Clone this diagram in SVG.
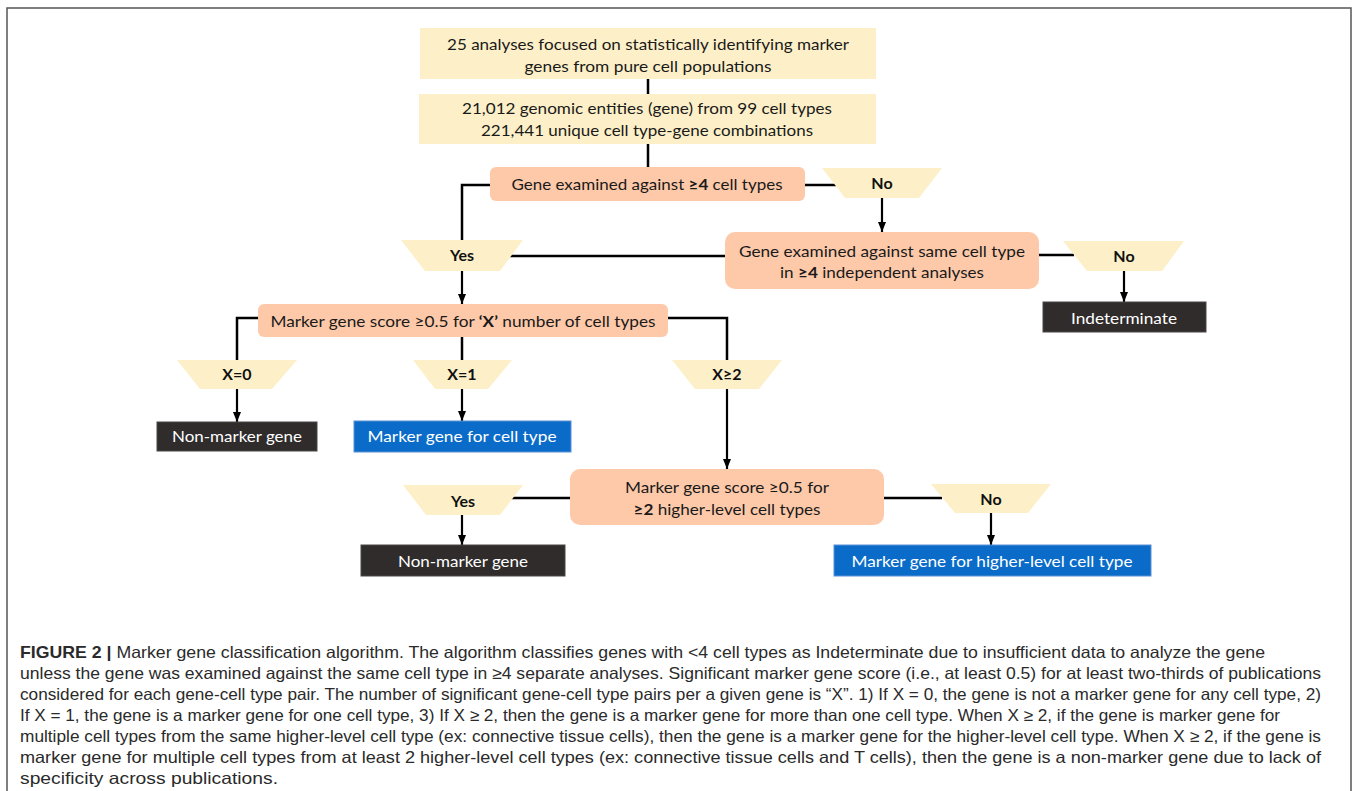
<svg xmlns="http://www.w3.org/2000/svg" width="1356" height="791" viewBox="0 0 1356 791">
<style>
.bg{fill:#ffffff}
.frame{fill:none;stroke:#555;stroke-width:1.5}
.yel{fill:#fdf0c8}
.sal{fill:#fdc9a9}
.dark{fill:#302c2c;stroke:#4a4646;stroke-width:1}
.blue{fill:#0a6cc8;stroke:#5a90d6;stroke-width:1}
.t{font-family:Lato,"Open Sans","Liberation Sans",sans-serif;font-size:16px;fill:#1a1a1a;text-anchor:middle}
.w{font-family:Lato,"Open Sans","Liberation Sans",sans-serif;font-size:16px;fill:#ffffff;text-anchor:middle}
.lb{font-family:Lato,"Open Sans","Liberation Sans",sans-serif;font-size:16px;font-weight:bold;fill:#111;text-anchor:middle}
.b{font-weight:bold}
.ln{fill:none;stroke:#000;stroke-width:2.5}
.ar{fill:none;stroke:#000;stroke-width:2.2;marker-end:url(#ah)}
.cap{font-family:"Liberation Sans",Arial,sans-serif;font-size:16.5px;fill:#2a2a2a}
</style>
<defs>
<marker id="ah" markerUnits="userSpaceOnUse" markerWidth="10" markerHeight="10" viewBox="0 0 10 10" refX="10" refY="5" orient="auto">
<path d="M0,1 L10,5 L0,9 z" fill="#000"/>
</marker>
</defs>
<rect class="bg" x="0" y="0" width="1356" height="791"/>
<path class="frame" d="M7,791 V8 H1351 V791"/>

<g id="connectors">
<path class="ln" d="M648,79 V94"/>
<path class="ln" d="M648,144 V167"/>
<path class="ln" d="M490,185 H462 V241"/>
<path class="ln" d="M805,185 H836"/>
<path class="ar" d="M882,198 V232"/>
<path class="ln" d="M510,256 H725"/>
<path class="ln" d="M1039,255 H1074"/>
<path class="ar" d="M1124,271 V302"/>
<path class="ar" d="M462,271 V304"/>
<path class="ln" d="M258,318 H237 V361"/>
<path class="ln" d="M462,337 V361"/>
<path class="ln" d="M668,318 H727 V361"/>
<path class="ar" d="M237,389 V422"/>
<path class="ar" d="M462,389 V421"/>
<path class="ar" d="M727,389 V469"/>
<path class="ln" d="M570,498 H510"/>
<path class="ln" d="M884,498 H942"/>
<path class="ar" d="M462,515 V545"/>
<path class="ar" d="M991,513 V545"/>
</g>

<g id="n-analyses">
<rect class="yel" x="420" y="28" width="456" height="51"/>
<text class="t" x="648" y="50" textLength="402" lengthAdjust="spacingAndGlyphs">25 analyses focused on statistically identifying marker</text>
<text class="t" x="648" y="72" textLength="247" lengthAdjust="spacingAndGlyphs">genes from pure cell populations</text>
</g>
<g id="n-entities">
<rect class="yel" x="419" y="94" width="457" height="50"/>
<text class="t" x="647" y="114" textLength="370" lengthAdjust="spacingAndGlyphs">21,012 genomic entities (gene) from 99 cell types</text>
<text class="t" x="647" y="136" textLength="332" lengthAdjust="spacingAndGlyphs">221,441 unique cell type-gene combinations</text>
</g>
<g id="n-ge4">
<rect class="sal" x="490" y="167" width="315" height="34" rx="6"/>
<text class="t" x="647" y="190" textLength="271" lengthAdjust="spacingAndGlyphs">Gene examined against <tspan class="b">≥4</tspan> cell types</text>
</g>
<g id="l-no1">
<polygon class="yel" points="822,168 942,168 919,198 845,198"/>
<text class="lb" x="882" y="189">No</text>
</g>
<g id="l-yes1">
<polygon class="yel" points="401,240 523,240 500,271 425,271"/>
<text class="lb" x="462" y="261">Yes</text>
</g>
<g id="n-same">
<rect class="sal" x="725" y="232" width="314" height="57" rx="10"/>
<text class="t" x="882" y="257" textLength="286" lengthAdjust="spacingAndGlyphs">Gene examined against same cell type</text>
<text class="t" x="882" y="278" textLength="204" lengthAdjust="spacingAndGlyphs">in <tspan class="b">≥4</tspan> independent analyses</text>
</g>
<g id="l-no2">
<polygon class="yel" points="1063,241 1184,241 1162,271 1087,271"/>
<text class="lb" x="1124" y="262">No</text>
</g>
<g id="n-indet">
<rect class="dark" x="1043" y="302" width="163" height="30"/>
<text class="w" x="1124" y="324" textLength="106" lengthAdjust="spacingAndGlyphs">Indeterminate</text>
</g>
<g id="n-score">
<rect class="sal" x="258" y="304" width="410" height="33" rx="6"/>
<text class="t" x="463" y="327" textLength="385" lengthAdjust="spacingAndGlyphs">Marker gene score ≥0.5 for <tspan class="b">‘X’</tspan> number of cell types</text>
</g>
<g id="l-x0">
<polygon class="yel" points="177,360 297,360 272,389 200,389"/>
<text class="lb" x="237" y="380">X=0</text>
</g>
<g id="l-x1">
<polygon class="yel" points="413,360 512,360 488,389 435,389"/>
<text class="lb" x="462" y="380">X=1</text>
</g>
<g id="l-x2">
<polygon class="yel" points="672,360 782,360 759,389 695,389"/>
<text class="lb" x="727" y="380">X≥2</text>
</g>
<g id="n-nonmarker1">
<rect class="dark" x="157" y="422" width="160" height="29"/>
<text class="w" x="237" y="442" textLength="130" lengthAdjust="spacingAndGlyphs">Non-marker gene</text>
</g>
<g id="n-markercell">
<rect class="blue" x="354" y="421" width="217" height="31"/>
<text class="w" x="462" y="442" textLength="189" lengthAdjust="spacingAndGlyphs">Marker gene for cell type</text>
</g>
<g id="n-higher">
<rect class="sal" x="570" y="469" width="314" height="56" rx="10"/>
<text class="t" x="727" y="493" textLength="204" lengthAdjust="spacingAndGlyphs">Marker gene score ≥0.5 for</text>
<text class="t" x="727" y="515" textLength="187" lengthAdjust="spacingAndGlyphs"><tspan class="b">≥2</tspan> higher-level cell types</text>
</g>
<g id="l-yes2">
<polygon class="yel" points="403,485 523,485 500,515 426,515"/>
<text class="lb" x="463" y="507">Yes</text>
</g>
<g id="l-no3">
<polygon class="yel" points="931,484 1051,484 1028,513 955,513"/>
<text class="lb" x="991" y="505">No</text>
</g>
<g id="n-nonmarker2">
<rect class="dark" x="361" y="545" width="204" height="31"/>
<text class="w" x="463" y="567" textLength="130" lengthAdjust="spacingAndGlyphs">Non-marker gene</text>
</g>
<g id="n-markerhigher">
<rect class="blue" x="834" y="545" width="317" height="31"/>
<text class="w" x="992" y="567" textLength="281" lengthAdjust="spacingAndGlyphs">Marker gene for higher-level cell type</text>
</g>

<g id="caption">
<text class="cap" x="20" y="658" textLength="1245" lengthAdjust="spacingAndGlyphs"><tspan font-weight="bold">FIGURE 2 |</tspan> Marker gene classification algorithm. The algorithm classifies genes with &lt;4 cell types as Indeterminate due to insufficient data to analyze the gene</text>
<text class="cap" x="20" y="679" textLength="1301" lengthAdjust="spacingAndGlyphs">unless the gene was examined against the same cell type in ≥4 separate analyses. Significant marker gene score (i.e., at least 0.5) for at least two-thirds of publications</text>
<text class="cap" x="20" y="700" textLength="1301" lengthAdjust="spacingAndGlyphs">considered for each gene-cell type pair. The number of significant gene-cell type pairs per a given gene is “X”. 1) If X = 0, the gene is not a marker gene for any cell type, 2)</text>
<text class="cap" x="20" y="721" textLength="1260" lengthAdjust="spacingAndGlyphs">If X = 1, the gene is a marker gene for one cell type, 3) If X ≥ 2, then the gene is a marker gene for more than one cell type. When X ≥ 2, if the gene is marker gene for</text>
<text class="cap" x="20" y="742" textLength="1301" lengthAdjust="spacingAndGlyphs">multiple cell types from the same higher-level cell type (ex: connective tissue cells), then the gene is a marker gene for the higher-level cell type. When X ≥ 2, if the gene is</text>
<text class="cap" x="20" y="763" textLength="1301" lengthAdjust="spacingAndGlyphs">marker gene for multiple cell types from at least 2 higher-level cell types (ex: connective tissue cells and T cells), then the gene is a non-marker gene due to lack of</text>
<text class="cap" x="20" y="784" textLength="258" lengthAdjust="spacingAndGlyphs">specificity across publications.</text>
</g>
</svg>
